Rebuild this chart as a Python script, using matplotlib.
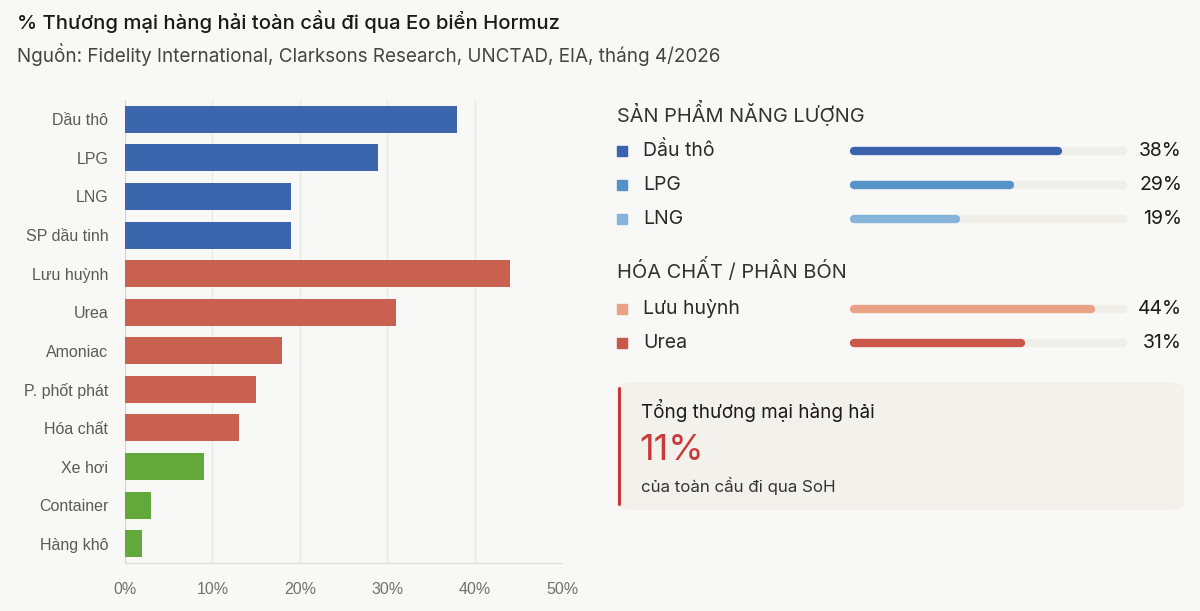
import matplotlib
matplotlib.use("Agg")
import matplotlib.pyplot as plt
from matplotlib.patches import FancyBboxPatch
from matplotlib.transforms import blended_transform_factory
import numpy as np

# ---- data ----
categories = ["Dầu thô", "LPG", "LNG", "SP dầu tinh", "Lưu huỳnh", "Urea",
              "Amoniac", "P. phốt phát", "Hóa chất", "Xe hơi", "Container", "Hàng khô"]
shares = [38, 29, 19, 19, 44, 31, 18, 15, 13, 9, 3, 2]
groups = ["energy"] * 4 + ["chem"] * 5 + ["other"] * 3
xticks = [0, 10, 20, 30, 40, 50]

energy_labels = ["Dầu thô", "LPG", "LNG"]
energy_values = [38, 29, 19]
chem_labels = ["Lưu huỳnh", "Urea"]
chem_values = [44, 31]

total_share = 11

group_colors = {"energy": "#3b66ad", "chem": "#c96151", "other": "#63a83a"}
energy_colors = ["#3a62ad", "#5592c8", "#86b3da"]
chem_colors = ["#e9a283", "#c9584a"]

BG = "#f8f8f6"
FONT = ["Inter", "DejaVu Sans"]
TICKFONT = ["Liberation Sans", "DejaVu Sans"]

W, H = 1200, 611
fig = plt.figure(figsize=(W / 100, H / 100), dpi=100, facecolor=BG)


def rect(x0, y0, x1, y1):
    # pixel box (top-left origin) -> figure fraction rect
    return [x0 / W, 1 - y1 / H, (x1 - x0) / W, (y1 - y0) / H]


# ---- title ----
fig.text(17 / W, 1 - 22 / H, "% Thương mại hàng hải toàn cầu đi qua Eo biển Hormuz",
         family=FONT, fontsize=14.6, fontweight="medium", color="#1a1a1a", va="center")
fig.text(17 / W, 1 - 55 / H, "Nguồn: Fidelity International, Clarksons Research, UNCTAD, EIA, tháng 4/2026",
         family=FONT, fontsize=13.6, color="#444444", va="center")

# ---- left bar chart ----
ax = fig.add_axes(rect(125, 100, 562, 563))
ax.set_facecolor(BG)
y = np.arange(len(categories))
ax.barh(y, shares, height=0.7, color=[group_colors[g] for g in groups], zorder=3)
ax.set_ylim(len(categories) - 0.5, -0.5)
ax.set_xlim(0, 50)
ax.set_xticks(xticks)
ax.set_xticklabels([f"{t}%" for t in xticks], family=TICKFONT, fontsize=11.5, color="#707070")
ax.set_yticks(y)
ax.set_yticklabels(categories, family=TICKFONT, fontsize=11.5, color="#5a5a5a")
ax.tick_params(axis="both", length=0)
ax.tick_params(axis="x", pad=14)
ax.tick_params(axis="y", pad=12)
ax.grid(axis="x", color="#e8e8e6", linewidth=1, zorder=0)
for s in ["top", "right"]:
    ax.spines[s].set_visible(False)
ax.spines["left"].set_color("#d6d6d6")
ax.spines["bottom"].set_color("#dddddd")


# ---- right panel ----
def track_panel(top, labels, values, colors):
    row_h = 34
    n = len(labels)
    tax = fig.add_axes(rect(854, top, 1123, top + n * row_h))
    tax.set_xlim(0, 50)
    tax.set_ylim(n - 0.5, -0.5)
    tax.axis("off")
    tr = blended_transform_factory(fig.transFigure, tax.transData)
    for i, (lab, val, col) in enumerate(zip(labels, values, colors)):
        tax.plot([0, 50], [i, i], color="#f0eee8", lw=6, solid_capstyle="round",
                 clip_on=False, zorder=1)
        tax.plot([0, val], [i, i], color=col, lw=6, solid_capstyle="round",
                 clip_on=False, zorder=2)
        tax.plot([622 / W], [i], marker="s", ms=7.5, color=col, transform=tr, clip_on=False)
        tax.text(643 / W, i, lab, transform=tr, family=FONT, fontsize=14,
                 color="#2a2a2a", va="center")
        tax.text(1182 / W, i, f"{val}%", transform=tr, family=FONT, fontsize=14,
                 color="#1a1a1a", va="center", ha="right")
    return tax


fig.text(617 / W, 1 - 113 / H, "SẢN PHẨM NĂNG LƯỢNG", family=FONT, fontsize=14.4,
         color="#333333", va="center")
track_panel(134, energy_labels, energy_values, energy_colors)

fig.text(617 / W, 1 - 270 / H, "HÓA CHẤT / PHÂN BÓN", family=FONT, fontsize=14.4,
         color="#333333", va="center")
track_panel(292, chem_labels, chem_values, chem_colors)

# ---- summary box ----
box = FancyBboxPatch((617 / W, 1 - 510 / H), 567 / W, 128 / H,
                     boxstyle="round,pad=0,rounding_size=0.012",
                     transform=fig.transFigure, facecolor="#f2f1ec", edgecolor="none")
fig.patches.append(box)
fig.add_artist(plt.Line2D([618.5 / W, 618.5 / W], [1 - 388 / H, 1 - 504 / H],
                          transform=fig.transFigure, color="#c9393a", lw=2.2,
                          solid_capstyle="round"))
fig.text(641 / W, 1 - 411 / H, "Tổng thương mại hàng hải", family=FONT, fontsize=13.6,
         color="#1a1a1a", va="center")
fig.text(639 / W, 1 - 451 / H, f"{total_share}%", family=FONT, fontsize=26,
         color="#c9393a", va="center")
fig.text(641 / W, 1 - 486 / H, "của toàn cầu đi qua SoH", family=FONT, fontsize=12.2,
         color="#333333", va="center")

fig.savefig("out.png", dpi=100, facecolor=BG)
